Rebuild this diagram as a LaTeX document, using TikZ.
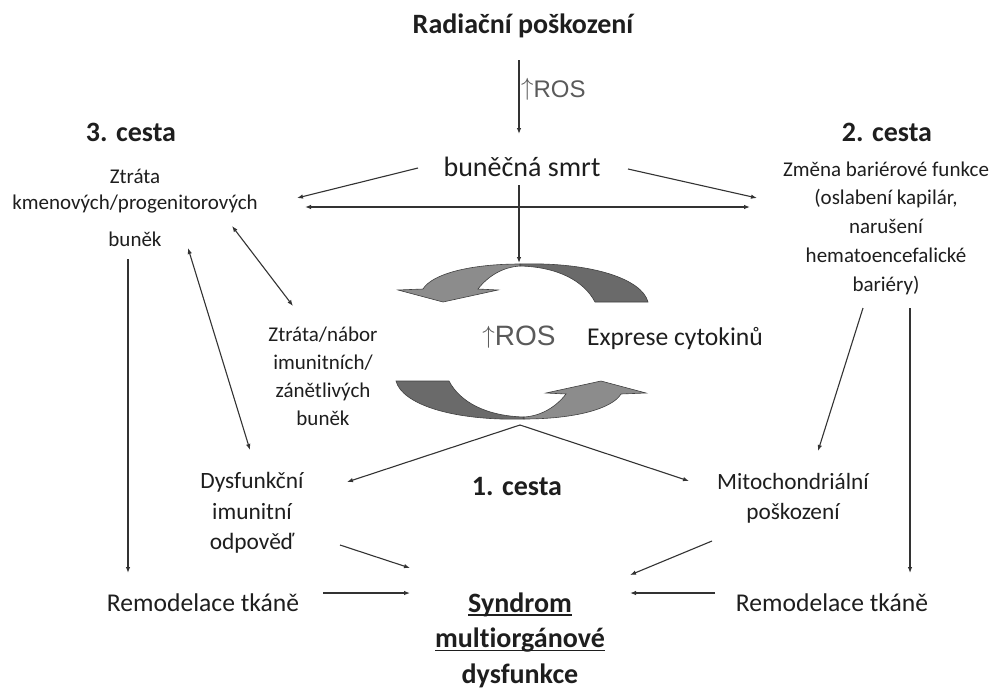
\documentclass[tikz,border=0pt]{standalone}
\usepackage{fontspec}
\setmainfont{Carlito}[Ligatures=NoCommon]
\newfontfamily\rosfont{Liberation Sans}
\usetikzlibrary{arrows.meta}
\newcommand{\myul}[1]{\setbox0\hbox{#1}\rlap{\rule[-3.5pt]{\wd0}{1.3pt}}\box0}
\newcommand{\uparr}{\raisebox{0.08em}{$\uparrow$}}
\definecolor{inkc}{HTML}{1E1E1E}
\definecolor{linec}{HTML}{333333}
\definecolor{rosc}{HTML}{5A5A5A}
\definecolor{lightarr}{HTML}{8C8C8C}
\definecolor{darkarr}{HTML}{6A6A6A}
\begin{document}
\begin{tikzpicture}[x=1pt,y=-1pt,
  txt/.style={align=center,inner sep=0pt,text=inkc},
  head/.style={txt,font=\bfseries\fontsize{28}{36}\selectfont},
  big/.style={txt,font=\fontsize{28}{34}\selectfont},
  mid/.style={txt,font=\fontsize{25.6}{30}\selectfont},
  med/.style={txt,font=\fontsize{23.4}{30.5}\selectfont},
  small/.style={txt,font=\fontsize{21}{28}\selectfont},
  rosbig/.style={inner sep=0pt,text=rosc,font=\rosfont\fontsize{28}{32}\selectfont},
  rossmall/.style={inner sep=0pt,text=rosc,font=\rosfont\fontsize{24}{28}\selectfont},
  arr/.style={draw=linec,line width=1.1pt,-{Latex[length=6pt,width=4.5pt]}},
  darr/.style={draw=linec,line width=1.1pt,{Latex[length=6pt,width=4.5pt]}-{Latex[length=6pt,width=4.5pt]}},
  cyc/.style={draw=black!75,line width=0.6pt}]
\useasboundingbox[fill=white] (0,0) rectangle (995,691);

% texts
\node[head] (rad) at (523,26) {Radiační poškození};
\node[rossmall,anchor=west] (ros1) at (521,89) {\uparr ROS};
\node[big] (smrt) at (522,167) {buněčná smrt};
\node[head] (c3) at (131,132) {3. cesta};
\node[head] (c2) at (887,132) {2. cesta};
\node[head] (c1) at (517,487) {1. cesta};
\node[small,font=\fontsize{21}{26}\selectfont] (stem) at (135,208) {Ztráta\\kmenových/progenitorových\\[11pt]buněk};
\node[small,font=\fontsize{21}{28.7}\selectfont] (bar) at (886,228) {Změna bariérové funkce\\(oslabení kapilár,\\narušení\\hematoencefalické\\bariéry)};
\node[small] (nabor) at (323,376) {Ztráta/nábor\\imunitních/\\zánětlivých\\buněk};
\node[med] (dys) at (252,513) {Dysfunkční\\imunitní\\odpověď};
\node[med,font=\fontsize{23.3}{30}\selectfont] (mito) at (793,498) {Mitochondriální\\poškození};
\node[rosbig] (rosm) at (519,337) {\uparr ROS};
\node[mid] (cyt) at (675,338) {Exprese cytokinů};
\node[mid] (rem1) at (203,603) {Remodelace tkáně};
\node[mid] (rem2) at (832,603) {Remodelace tkáně};
\node[head,font=\bfseries\fontsize{28}{35.5}\selectfont] (syn) at (520,640) {\myul{Syndrom}\\\myul{multiorgánové}\\dysfunkce};

% cycle arrows
\begin{scope}
  \path[cyc,fill=darkarr] (520,264) .. controls (592,262) and (642,279) .. (648,302)
     -- (595,302) .. controls (584,281) and (558,267) .. (520,266) -- cycle;
  \path[cyc,fill=lightarr] (520,264) .. controls (470,264) and (432,274) .. (423,289)
     -- (398,290) -- (443,302) -- (498,290) -- (478,289)
     .. controls (488,276) and (503,267) .. (520,266) -- cycle;
\end{scope}
\begin{scope}[rotate around={180:(522,341.5)}]
  \path[cyc,fill=darkarr] (520,264) .. controls (592,262) and (642,279) .. (648,302)
     -- (595,302) .. controls (584,281) and (558,267) .. (520,266) -- cycle;
  \path[cyc,fill=lightarr] (520,264) .. controls (470,264) and (432,274) .. (423,289)
     -- (398,290) -- (443,302) -- (498,290) -- (478,289)
     .. controls (488,276) and (503,267) .. (520,266) -- cycle;
\end{scope}
\coordinate (cyctop) at (519,263);
\coordinate (cycbot) at (520,425);

% connectors
\draw[arr] ([shift={(-4,34)}]rad.center) -- ([shift={(-3,-33)}]smrt.center);
\draw[arr] ([shift={(-104,1)}]smrt.center) -- ([shift={(162,-10)}]stem.center);
\draw[arr] ([shift={(106,2)}]smrt.center) -- ([shift={(-129,-30)}]bar.center);
\draw[darr] ([shift={(170,-1)}]stem.center) -- ([shift={(-136,-21)}]bar.center);
\draw[arr] ([shift={(-3,18)}]smrt.center) -- (cyctop);
\draw[darr] ([shift={(97,18)}]stem.center) -- ([shift={(-30,-70)}]nabor.center);
\draw[darr] ([shift={(53,40)}]stem.center) -- ([shift={(-2,-63)}]dys.center);
\draw[arr] ([shift={(-7,51)}]stem.center) -- ([shift={(-75,-30)}]rem1.center);
\draw[arr] (cycbot) -- ([shift={(95,-31)}]dys.center);
\draw[arr] (cycbot) -- ([shift={(-104,-17)}]mito.center);
\draw[arr] ([shift={(-23,80)}]bar.center) -- ([shift={(25,-47)}]mito.center);
\draw[arr] ([shift={(24,80)}]bar.center) -- ([shift={(78,-30)}]rem2.center);
\draw[arr] ([shift={(88,32)}]dys.center) -- ([shift={(-110,-72)}]syn.center);
\draw[arr] ([shift={(120,-10)}]rem1.center) -- ([shift={(-110,-47)}]syn.center);
\draw[arr] ([shift={(-81,43)}]mito.center) -- ([shift={(110,-65)}]syn.center);
\draw[arr] ([shift={(-117,-10)}]rem2.center) -- ([shift={(110,-47)}]syn.center);
\end{tikzpicture}
\end{document}
